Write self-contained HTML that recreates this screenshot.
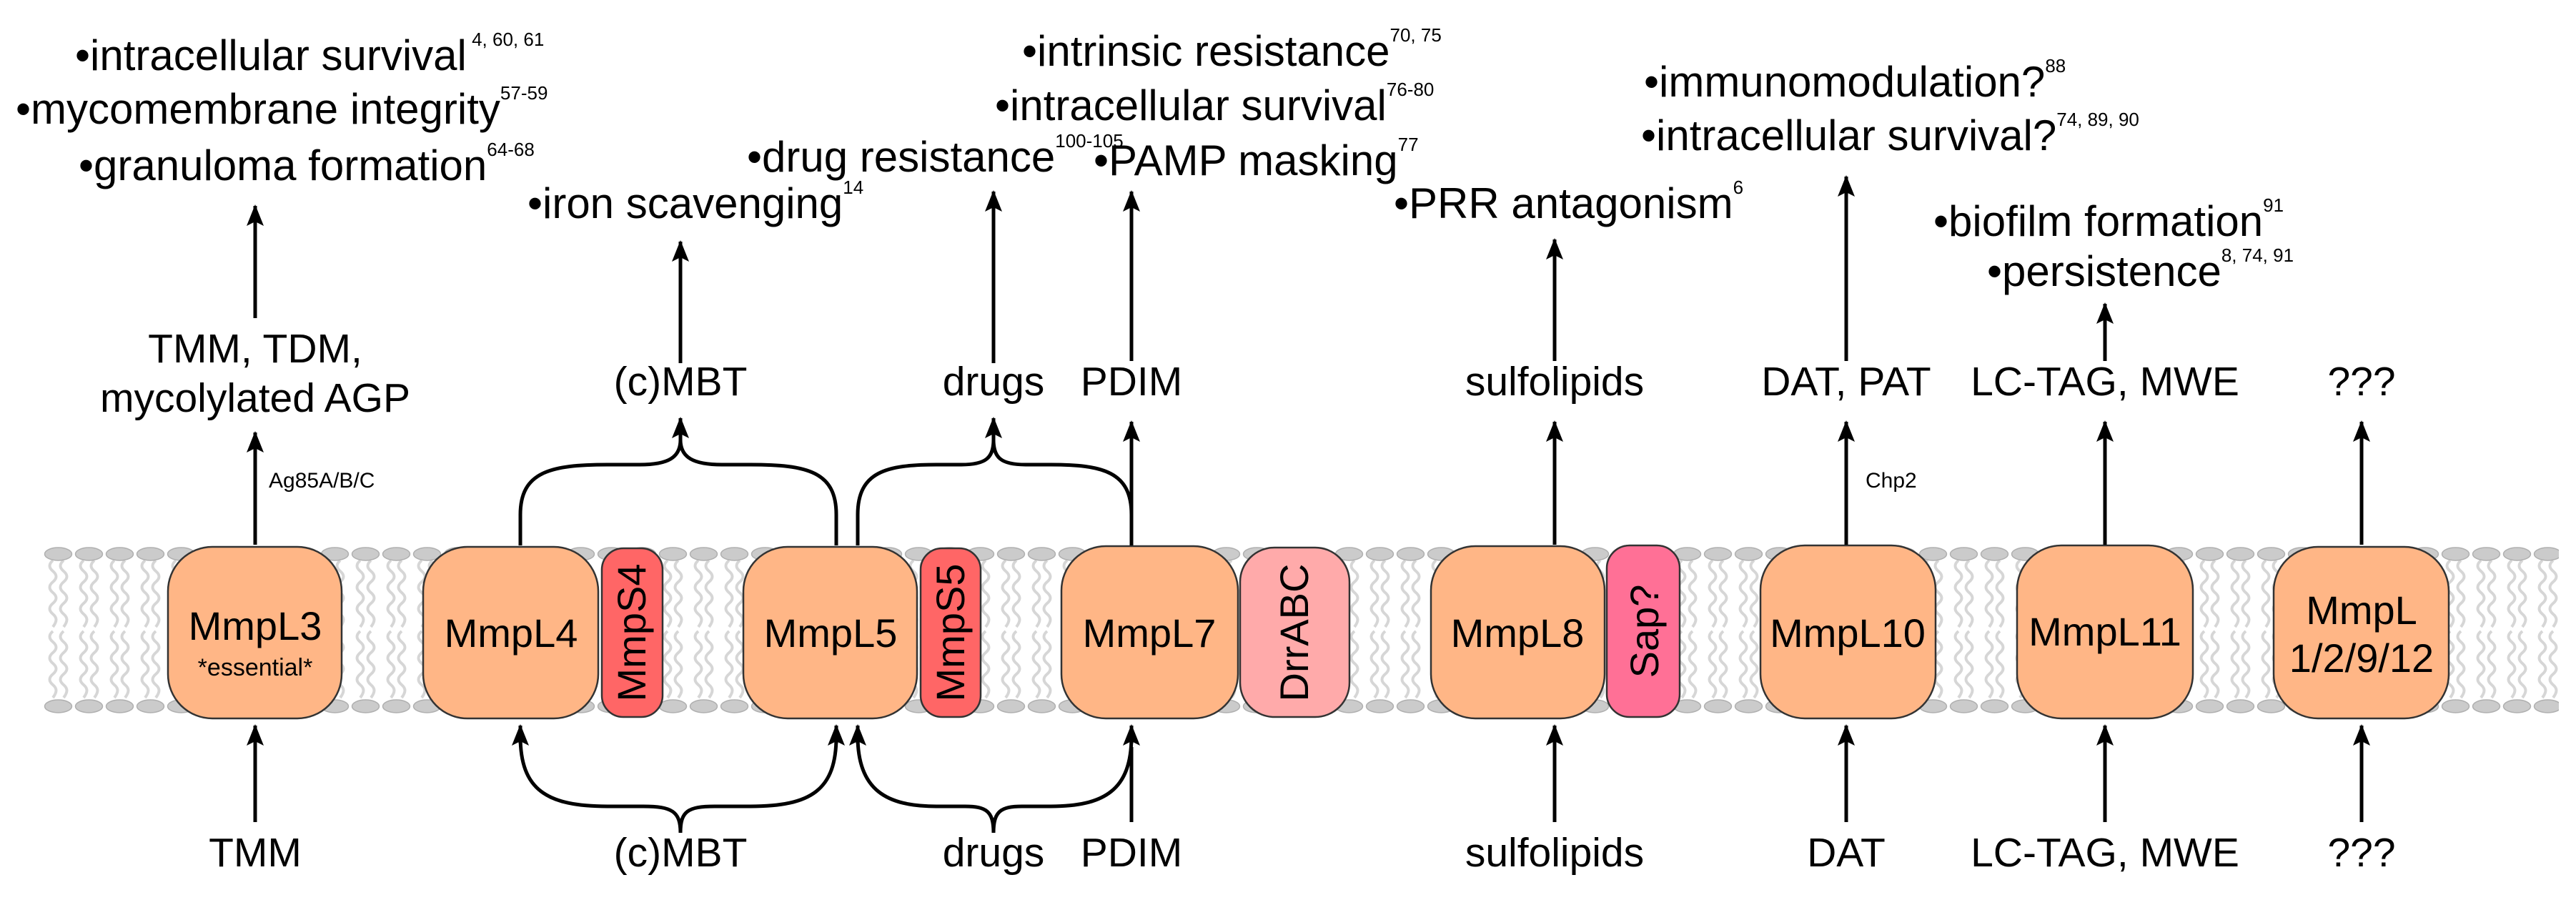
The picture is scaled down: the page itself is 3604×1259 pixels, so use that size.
<!DOCTYPE html>
<html><head><meta charset="utf-8"><style>
html,body{margin:0;padding:0;background:#fff}
svg{display:block}
text{font-family:"Liberation Sans",Arial,sans-serif;fill:#000}
</style></head><body>
<svg width="3604" height="1259" viewBox="0 0 3604 1259" xmlns="http://www.w3.org/2000/svg">
<defs>
<pattern id="lip" patternUnits="userSpaceOnUse" x="60" y="760" width="43" height="240">
<g fill="none" stroke="#d6d6d6" stroke-width="4">
<path d="M14 24 c-6 5 -6 10 0 15 s6 10 0 15 s-6 10 0 15 s6 10 0 15 s-6 10 0 15 s6 10 0 18"/>
<path d="M29 24 c-6 5 -6 10 0 15 s6 10 0 15 s-6 10 0 15 s6 10 0 15 s-6 10 0 15 s6 10 0 18"/>
<path d="M14 123 c-6 5 -6 10 0 15 s6 10 0 15 s-6 10 0 15 s6 10 0 15 s-6 10 0 15 s6 10 0 18"/>
<path d="M29 123 c-6 5 -6 10 0 15 s6 10 0 15 s-6 10 0 15 s6 10 0 15 s-6 10 0 15 s6 10 0 18"/>
</g>
<ellipse cx="21.5" cy="15" rx="19" ry="9" fill="#cbcbcb" stroke="#b0b0b0" stroke-width="1.5"/>
<ellipse cx="21.5" cy="228" rx="19" ry="9" fill="#cbcbcb" stroke="#b0b0b0" stroke-width="1.5"/>
</pattern>
<marker id="ah" markerUnits="userSpaceOnUse" markerWidth="30" markerHeight="24" refX="28" refY="12" orient="auto">
<path d="M0,0 L30,12 L0,24 L6,12 z" fill="#000"/>
</marker>
</defs>

<rect x="60" y="760" width="3520" height="240" fill="url(#lip)"/>

<g stroke="#333" stroke-width="2.5">
<rect x="235" y="765" width="243" height="240" rx="62" fill="#ffb686"/>
<rect x="592" y="765" width="245" height="240" rx="62" fill="#ffb686"/>
<rect x="842" y="767" width="85" height="236" rx="30" fill="#ff6666"/>
<rect x="1040" y="765" width="243" height="240" rx="62" fill="#ffb686"/>
<rect x="1288" y="767" width="84" height="236" rx="30" fill="#ff6666"/>
<rect x="1485" y="764" width="247" height="241" rx="62" fill="#ffb686"/>
<rect x="1735" y="766" width="153" height="237" rx="48" fill="#ffaaaa"/>
<rect x="2002" y="764" width="243" height="241" rx="62" fill="#ffb686"/>
<rect x="2248" y="763" width="102" height="240" rx="32" fill="#ff7096"/>
<rect x="2463" y="763" width="245" height="242" rx="62" fill="#ffb686"/>
<rect x="2822" y="763" width="246" height="242" rx="62" fill="#ffb686"/>
<rect x="3181" y="765" width="245" height="240" rx="62" fill="#ffb686"/>
</g>

<g font-size="56" text-anchor="middle">
<text x="357" y="895">MmpL3</text>
<text x="357" y="945" font-size="34">*essential*</text>
<text x="715" y="905">MmpL4</text>
<text x="1162" y="905">MmpL5</text>
<text x="1608" y="905">MmpL7</text>
<text x="2123" y="905">MmpL8</text>
<text x="2585" y="905">MmpL10</text>
<text x="2945" y="903">MmpL11</text>
<text x="3304" y="873">MmpL</text>
<text x="3304" y="940">1/2/9/12</text>
<text transform="translate(903,885) rotate(-90)">MmpS4</text>
<text transform="translate(1349,885) rotate(-90)">MmpS5</text>
<text transform="translate(1830,885) rotate(-90)">DrrABC</text>
<text transform="translate(2320,883) rotate(-90)">Sap?</text>
</g>

<g stroke="#000" stroke-width="5" fill="none">
<line x1="357" y1="1150" x2="357" y2="1015" marker-end="url(#ah)"/>
<line x1="357" y1="762" x2="357" y2="605" marker-end="url(#ah)"/>
<line x1="357" y1="445" x2="357" y2="288" marker-end="url(#ah)"/>
<path d="M728,763 L728,720 C728,660 770,650 850,650 L895,650 C935,650 952,640 952,615"/>
<path d="M1170,763 L1170,720 C1170,660 1130,650 1050,650 L1010,650 C970,650 952,640 952,615"/>
<line x1="952" y1="620" x2="952" y2="585" marker-end="url(#ah)"/>
<path d="M1200,763 L1200,720 C1200,660 1240,650 1310,650 L1345,650 C1380,650 1390,640 1390,615"/>
<path d="M1583,763 L1583,720 C1583,660 1543,650 1470,650 L1435,650 C1400,650 1390,640 1390,615"/>
<line x1="1390" y1="620" x2="1390" y2="585" marker-end="url(#ah)"/>
<line x1="952" y1="508" x2="952" y2="338" marker-end="url(#ah)"/>
<line x1="1390" y1="508" x2="1390" y2="268" marker-end="url(#ah)"/>
<path d="M728,1030 C728,1105 765,1128 850,1128 L900,1128 C940,1128 952,1135 952,1165"/>
<path d="M1170,1030 C1170,1105 1135,1128 1050,1128 L1000,1128 C962,1128 952,1135 952,1165"/>
<line x1="728" y1="1040" x2="728" y2="1015" marker-end="url(#ah)"/>
<line x1="1170" y1="1040" x2="1170" y2="1015" marker-end="url(#ah)"/>
<path d="M1200,1030 C1200,1105 1240,1128 1310,1128 L1350,1128 C1380,1128 1390,1135 1390,1165"/>
<path d="M1583,1030 C1583,1105 1545,1128 1470,1128 L1430,1128 C1400,1128 1390,1135 1390,1165"/>
<line x1="1200" y1="1040" x2="1200" y2="1015" marker-end="url(#ah)"/>
<line x1="1583" y1="1040" x2="1583" y2="1015" marker-end="url(#ah)"/>
<line x1="1583" y1="762" x2="1583" y2="590" marker-end="url(#ah)"/>
<line x1="1583" y1="505" x2="1583" y2="268" marker-end="url(#ah)"/>
<line x1="1583" y1="1150" x2="1583" y2="1045"/>
<line x1="2175" y1="1150" x2="2175" y2="1015" marker-end="url(#ah)"/>
<line x1="2175" y1="762" x2="2175" y2="590" marker-end="url(#ah)"/>
<line x1="2175" y1="505" x2="2175" y2="335" marker-end="url(#ah)"/>
<line x1="2583" y1="1150" x2="2583" y2="1015" marker-end="url(#ah)"/>
<line x1="2583" y1="762" x2="2583" y2="590" marker-end="url(#ah)"/>
<line x1="2583" y1="505" x2="2583" y2="247" marker-end="url(#ah)"/>
<line x1="2945" y1="1150" x2="2945" y2="1015" marker-end="url(#ah)"/>
<line x1="2945" y1="762" x2="2945" y2="590" marker-end="url(#ah)"/>
<line x1="2945" y1="505" x2="2945" y2="425" marker-end="url(#ah)"/>
<line x1="3304" y1="1150" x2="3304" y2="1015" marker-end="url(#ah)"/>
<line x1="3304" y1="762" x2="3304" y2="590" marker-end="url(#ah)"/>
</g>

<g font-size="57" text-anchor="middle">
<text x="357" y="507">TMM, TDM,</text>
<text x="357" y="576">mycolylated AGP</text>
<text x="952" y="553">(c)MBT</text>
<text x="1390" y="553">drugs</text>
<text x="1583" y="553">PDIM</text>
<text x="2175" y="553">sulfolipids</text>
<text x="2583" y="553">DAT, PAT</text>
<text x="2945" y="553">LC-TAG, MWE</text>
<text x="3304" y="553">???</text>
<text x="357" y="1212">TMM</text>
<text x="952" y="1212">(c)MBT</text>
<text x="1390" y="1212">drugs</text>
<text x="1583" y="1212">PDIM</text>
<text x="2175" y="1212">sulfolipids</text>
<text x="2583" y="1212">DAT</text>
<text x="2945" y="1212">LC-TAG, MWE</text>
<text x="3304" y="1212">???</text>
</g>
<text x="376" y="682" font-size="30">Ag85A/B/C</text>
<text x="2610" y="682" font-size="30">Chp2</text>

<g font-size="60">
<text x="105" y="98">•intracellular survival<tspan dy="-34" font-size="26"> 4, 60, 61</tspan></text>
<text x="22" y="173">•mycomembrane integrity<tspan dy="-34" font-size="26">57-59</tspan></text>
<text x="110" y="252">•granuloma formation<tspan dy="-34" font-size="26">64-68</tspan></text>
<text x="738" y="305">•iron scavenging<tspan dy="-34" font-size="26">14</tspan></text>
<text x="1045" y="240">•drug resistance<tspan dy="-34" font-size="26">100-105</tspan></text>
<text x="1430" y="92">•intrinsic resistance<tspan dy="-34" font-size="26">70, 75</tspan></text>
<text x="1392" y="168">•intracellular survival<tspan dy="-34" font-size="26">76-80</tspan></text>
<text x="1530" y="245">•PAMP masking<tspan dy="-34" font-size="26">77</tspan></text>
<text x="1950" y="305">•PRR antagonism<tspan dy="-34" font-size="26">6</tspan></text>
<text x="2300" y="135">•immunomodulation?<tspan dy="-34" font-size="26">88</tspan></text>
<text x="2296" y="210">•intracellular survival?<tspan dy="-34" font-size="26">74, 89, 90</tspan></text>
<text x="2705" y="330">•biofilm formation<tspan dy="-34" font-size="26">91</tspan></text>
<text x="2780" y="400">•persistence<tspan dy="-34" font-size="26">8, 74, 91</tspan></text>
</g>
</svg>
</body></html>
